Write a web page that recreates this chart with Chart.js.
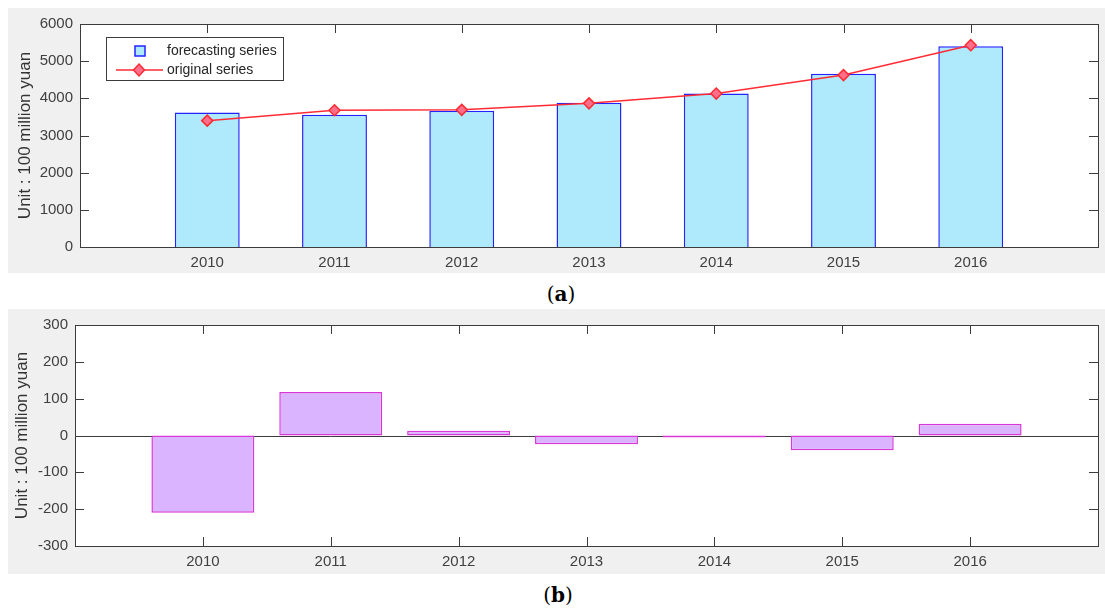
<!DOCTYPE html>
<html>
<head>
<meta charset="utf-8">
<script src="https://cdn.jsdelivr.net/npm/chart.js@4.4.1/dist/chart.umd.min.js"></script>
<style>
  html, body { margin: 0; padding: 0; background: #fff; }
  body { position: relative; width: 1105px; height: 612px; overflow: hidden; }
  .panel { position: absolute; left: 8px; width: 1097px; height: 265px; background: #f0f0f0; }
  #panelA { top: 8px; }
  #panelB { top: 309px; }
  .caption {
    position: absolute; width: 80px; text-align: center;
    font-family: "DejaVu Serif", "Liberation Serif", serif; font-size: 20px; color: #000;
    line-height: 24px;
  }
  .caption b { font-weight: bold; }
</style>
</head>
<body>
<div class="panel" id="panelA"><canvas id="chartA" width="1097" height="265"></canvas></div>
<div class="caption" style="left:521px; top:282px;">(<b>a</b>)</div>
<div class="panel" id="panelB"><canvas id="chartB" width="1097" height="265"></canvas></div>
<div class="caption" style="left:518px; top:583px;">(<b>b</b>)</div>
<script>
  // 연도별 예측 / 실제 값 (단위: 억 위안)
  const years = [2010, 2011, 2012, 2013, 2014, 2015, 2016];
  const forecastValues = [3620, 3560, 3665, 3880, 4130, 4660, 5400];
  const originalValues = [3400, 3680, 3690, 3865, 4128, 4625, 5430];
  const errorValues = [-210, 118, 13, -24, -2, -40, 32];

  const yTicksA = [0, 1000, 2000, 3000, 4000, 5000, 6000];
  const yTicksB = [-300, -200, -100, 0, 100, 200, 300];

  const AXIS_COLOR = "#3c3c3c";
  const TEXT_COLOR = "#404040";
  const FONT = '"Liberation Sans", Arial, Helvetica, sans-serif';

  const pts = (vals) => years.map((y, i) => ({ x: y, y: vals[i] }));

  // MATLAB 스타일 축: 흰 플롯 영역 + 안쪽 눈금 + 박스
  const matlabFrame = {
    id: "matlabFrame",
    beforeDraw(chart) {
      const { ctx, chartArea: a } = chart;
      ctx.save();
      ctx.fillStyle = "#fff";
      ctx.fillRect(a.left, a.top, a.right - a.left, a.bottom - a.top);
      ctx.restore();
    },
    beforeDatasetsDraw(chart, args, opts) {
      const { ctx, chartArea: a, scales } = chart;
      const x = scales.x, y = scales.y;
      const len = 9;
      ctx.save();
      ctx.strokeStyle = AXIS_COLOR;
      ctx.lineWidth = 1;
      ctx.beginPath();
      years.forEach((v) => {
        const px = Math.round(x.getPixelForValue(v)) + 0.5;
        ctx.moveTo(px, a.top); ctx.lineTo(px, a.top + len);
        ctx.moveTo(px, a.bottom); ctx.lineTo(px, a.bottom - len);
      });
      (opts.yTicks || []).forEach((v) => {
        const py = Math.round(y.getPixelForValue(v)) + 0.5;
        ctx.moveTo(a.left, py); ctx.lineTo(a.left + len, py);
        ctx.moveTo(a.right, py); ctx.lineTo(a.right - len, py);
      });
      if (opts.zeroLine) {
        const pz = Math.round(y.getPixelForValue(0)) + 0.5;
        ctx.moveTo(a.left, pz); ctx.lineTo(a.right, pz);
      }
      ctx.stroke();
      ctx.strokeRect(Math.round(a.left) + 0.5, Math.round(a.top) + 0.5,
        Math.round(a.right - a.left), Math.round(a.bottom - a.top));
      ctx.restore();
    },
  };

  // 범례 상자 (왼쪽 위)
  const boxLegend = {
    id: "boxLegend",
    afterDraw(chart, args, opts) {
      if (!opts.show) return;
      const { ctx } = chart;
      const bx = 98.5, by = 29.5, bw = 177, bh = 43;
      const barDs = chart.data.datasets[0];
      const lineDs = chart.data.datasets[1];
      ctx.save();
      ctx.fillStyle = "#fff";
      ctx.fillRect(bx, by, bw, bh);
      ctx.strokeStyle = "#3c3c3c";
      ctx.lineWidth = 1;
      ctx.strokeRect(bx, by, bw, bh);
      // forecasting series marker
      ctx.fillStyle = barDs.backgroundColor;
      ctx.strokeStyle = barDs.borderColor;
      ctx.lineWidth = 1.5;
      ctx.fillRect(127, 38, 10, 10);
      ctx.strokeRect(127, 38, 10, 10);
      // original series marker
      ctx.strokeStyle = lineDs.borderColor;
      ctx.lineWidth = 1.5;
      ctx.beginPath();
      ctx.moveTo(108, 62); ctx.lineTo(155, 62);
      ctx.stroke();
      ctx.beginPath();
      ctx.moveTo(131, 56); ctx.lineTo(136.5, 62); ctx.lineTo(131, 68); ctx.lineTo(125.5, 62);
      ctx.closePath();
      ctx.fillStyle = lineDs.pointBackgroundColor;
      ctx.fill();
      ctx.strokeStyle = lineDs.pointBorderColor;
      ctx.stroke();
      ctx.fillStyle = "#262626";
      ctx.font = "14px " + FONT;
      ctx.textBaseline = "middle";
      ctx.fillText(barDs.label, 159, 43);
      ctx.fillText(lineDs.label, 159, 62);
      ctx.restore();
    },
  };

  function xScale(height) {
    return {
      type: "linear",
      min: 2009,
      max: 2017,
      offset: false,
      afterFit: (s) => { s.height = height; },
      grid: { display: false, drawTicks: false, offset: false },
      border: { display: false },
      ticks: {
        stepSize: 1,
        autoSkip: false,
        maxRotation: 0,
        padding: 7,
        color: TEXT_COLOR,
        font: { family: FONT, size: 15 },
        callback: (v) => (years.includes(v) ? String(v) : ""),
      },
    };
  }

  function yScale(min, max, step, width, titlePad) {
    return {
      min, max,
      afterFit: (s) => { s.width = width; },
      grid: { display: false, drawTicks: false },
      border: { display: false },
      ticks: {
        stepSize: step,
        padding: 7,
        color: TEXT_COLOR,
        font: { family: FONT, size: 15 },
        callback: (v) => String(v),
      },
      title: {
        display: true,
        text: "Unit : 100 million yuan",
        color: "#333",
        font: { family: FONT, size: 17 },
        padding: { top: titlePad, bottom: 0 },
      },
    };
  }

  new Chart(document.getElementById("chartA"), {
    type: "bar",
    data: {
      datasets: [
        {
          type: "bar",
          label: "forecasting series",
          data: pts(forecastValues),
          backgroundColor: "#aeeafc",
          borderColor: "#2323ff",
          borderWidth: 1.5,
          barPercentage: 0.51,
          categoryPercentage: 1,
          order: 2,
        },
        {
          type: "line",
          label: "original series",
          data: pts(originalValues),
          borderColor: "#ff2b33",
          borderWidth: 1.5,
          tension: 0,
          pointStyle: "rectRot",
          pointRadius: 5.5,
          pointBackgroundColor: "#ff6f8a",
          pointBorderColor: "#ff2b33",
          pointBorderWidth: 1.5,
          order: 1,
        },
      ],
    },
    options: {
      responsive: false,
      animation: false,
      layout: { padding: { top: 15, right: 4, bottom: 0, left: 0 } },
      plugins: {
        legend: { display: false },
        tooltip: { enabled: false },
        matlabFrame: { yTicks: yTicksA, zeroLine: false },
        boxLegend: { show: true },
      },
      scales: {
        x: xScale(26),
        y: yScale(0, 6000, 1000, 72, 7),
      },
    },
    plugins: [matlabFrame, boxLegend],
  });

  new Chart(document.getElementById("chartB"), {
    type: "bar",
    data: {
      datasets: [
        {
          label: "error",
          data: pts(errorValues),
          backgroundColor: "#dab4ff",
          borderColor: "#d838d8",
          borderWidth: 1.5,
          borderSkipped: false,
          minBarLength: 2,
          barPercentage: 0.805,
          categoryPercentage: 1,
        },
      ],
    },
    options: {
      responsive: false,
      animation: false,
      layout: { padding: { top: 13, right: 3, bottom: 0, left: 0 } },
      plugins: {
        legend: { display: false },
        tooltip: { enabled: false },
        matlabFrame: { yTicks: yTicksB, zeroLine: true },
        boxLegend: { show: false },
      },
      scales: {
        x: xScale(28),
        y: yScale(-300, 300, 100, 67, 4),
      },
    },
    plugins: [matlabFrame, boxLegend],
  });
</script>
</body>
</html>
